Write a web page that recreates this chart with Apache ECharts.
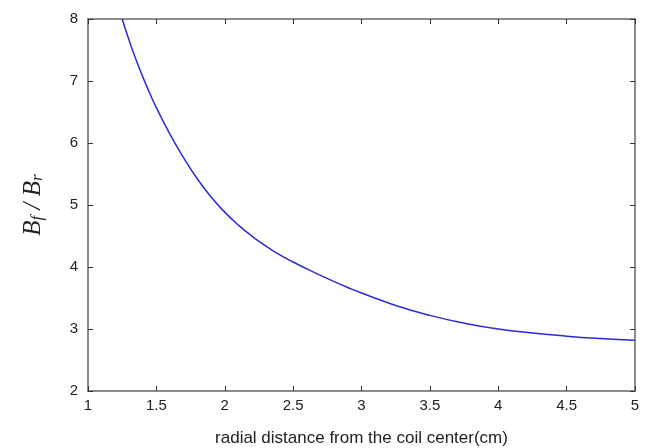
<!DOCTYPE html>
<html>
<head>
<meta charset="utf-8">
<script src="https://cdn.jsdelivr.net/npm/echarts@6/dist/echarts.min.js"></script>
<style>html,body{margin:0;padding:0;background:#fff}#c{width:649px;height:448px}</style>
</head>
<body>
<div id="c"></div>
<script>
const xValues = [1.25, 1.3, 1.35, 1.4, 1.45, 1.5, 1.6, 1.7, 1.8, 1.9, 2.0, 2.1, 2.2, 2.3, 2.4, 2.5, 2.6, 2.7, 2.8, 2.9, 3.0, 3.25, 3.5, 3.75, 4.0, 4.25, 4.5, 4.75, 5.0];
const yValues = [8.0, 7.66, 7.35, 7.07, 6.81, 6.57, 6.14, 5.76, 5.42, 5.13, 4.885, 4.675, 4.495, 4.34, 4.2, 4.08, 3.97, 3.865, 3.765, 3.67, 3.58, 3.38, 3.22, 3.095, 3.0, 2.935, 2.885, 2.8475, 2.82];
const xTicks = [1, 1.5, 2, 2.5, 3, 3.5, 4, 4.5, 5];
const yTicks = [2, 3, 4, 5, 6, 7, 8];
const xTitle = 'radial distance from the coil center(cm)';

const axisColor = '#666';
const chart = echarts.init(document.getElementById('c'));
const common = {
  axisLine: {show: true, onZero: false, lineStyle: {color: axisColor, width: 1.5}},
  axisTick: {show: true, inside: true, length: 5, lineStyle: {color: '#333', width: 1}},
  splitLine: {show: false}
};
chart.setOption({
  animation: false,
  grid: {left: 88, right: 14, top: 19, bottom: 57, containLabel: false, outerBoundsMode: 'none'},
  xAxis: [
    Object.assign({}, common, {
      type: 'value', min: xTicks[0], max: xTicks[xTicks.length-1], interval: 0.5, position: 'bottom',
      axisLabel: {color: '#222', fontSize: 15, fontFamily: 'Arial, Liberation Sans', margin: 7,
        formatter: v => String(v)},
      name: xTitle, nameLocation: 'middle', nameGap: 39,
      nameTextStyle: {color: '#222', fontSize: 17, fontFamily: 'Arial, Liberation Sans'}
    }),
    Object.assign({}, common, {
      type: 'value', min: xTicks[0], max: xTicks[xTicks.length-1], interval: 0.5, position: 'top',
      axisLabel: {show: false}
    })
  ],
  yAxis: [
    Object.assign({}, common, {
      type: 'value', min: yTicks[0], max: yTicks[yTicks.length-1], interval: 1, position: 'left',
      axisLabel: {color: '#222', fontSize: 15, fontFamily: 'Arial, Liberation Sans', margin: 10},
      name: '{B|B}{s|f}{B| / B}{s|r}', nameLocation: 'middle', nameGap: 42, nameRotate: 90,
      nameTextStyle: {
        rich: {
          B: {fontFamily: 'Liberation Serif, Times New Roman, serif', fontStyle: 'italic', fontSize: 25, color: '#222', lineHeight: 28, verticalAlign: 'bottom'},
          s: {fontFamily: 'Liberation Serif, Times New Roman, serif', fontStyle: 'italic', fontSize: 17, color: '#222', lineHeight: 28, verticalAlign: 'bottom', padding: [9, 0, 0, 0]}
        }
      }
    }),
    Object.assign({}, common, {
      type: 'value', min: yTicks[0], max: yTicks[yTicks.length-1], interval: 1, position: 'right',
      axisLabel: {show: false}
    })
  ],
  series: [{
    type: 'line', xAxisIndex: 0, yAxisIndex: 0,
    data: xValues.map((x, i) => [x, yValues[i]]),
    smooth: 0.5, showSymbol: false,
    lineStyle: {color: '#2a2ad8', width: 1.5}
  }]
});
</script>
</body>
</html>
